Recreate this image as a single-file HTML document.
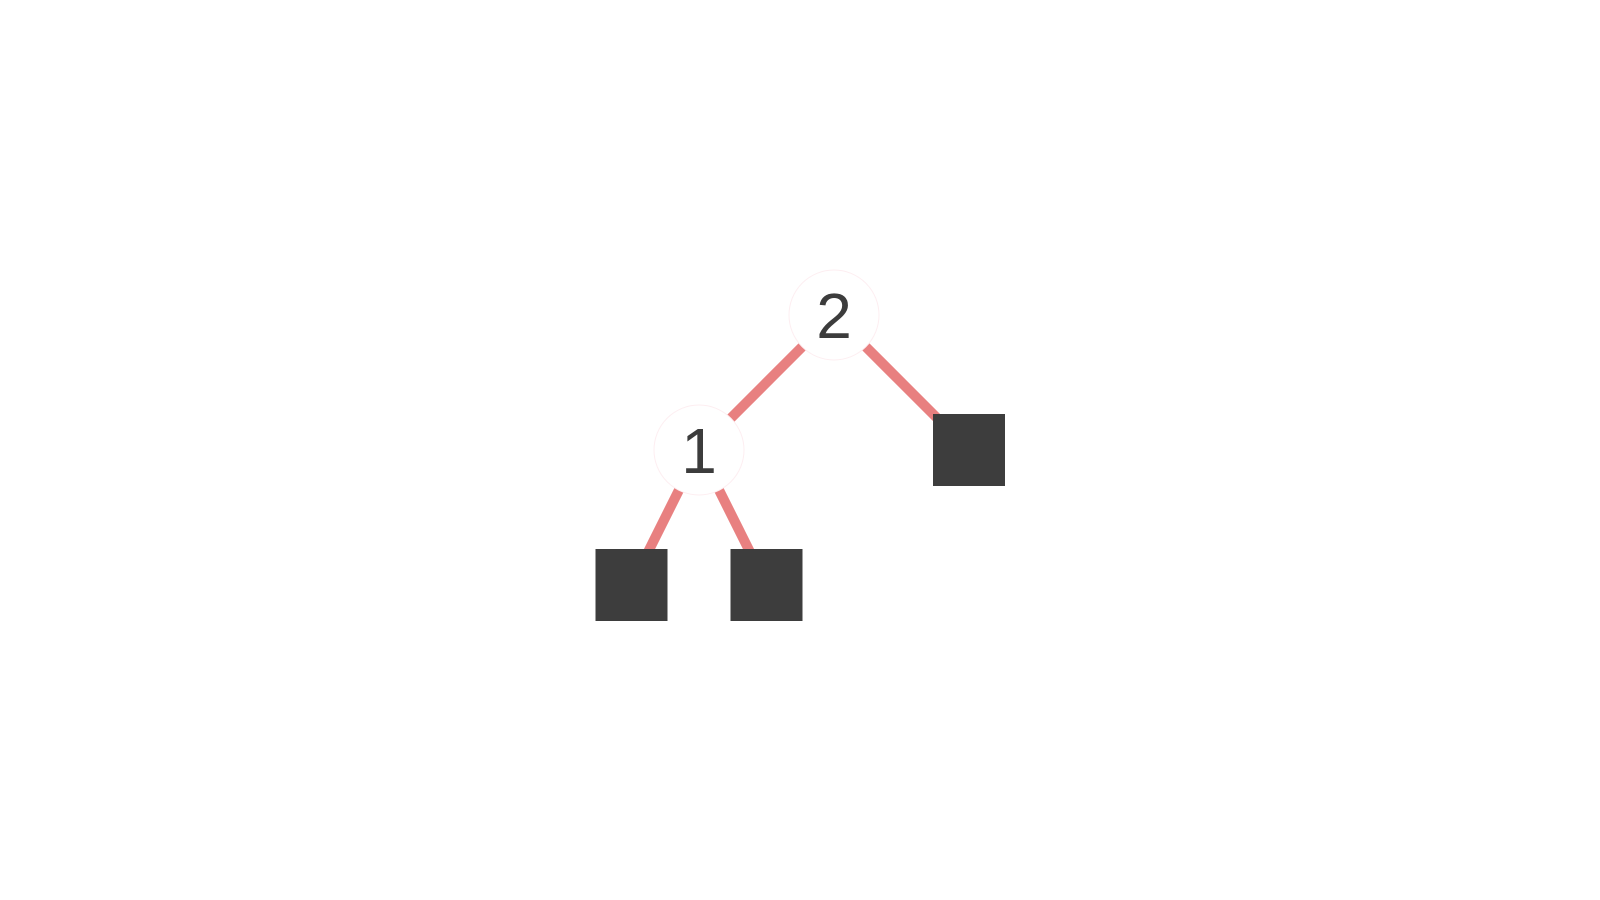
<!DOCTYPE html>
<html><head><meta charset="utf-8"><style>
html,body{margin:0;padding:0;background:#fff;}
svg{display:block;}
</style></head><body>
<svg width="1600" height="900">
<g id="edges"></g>
<g id="nodes"></g>
</svg>
<script>
const nodeLabels = ["2","1",null,null,null];
const nodeDepth = [0,1,2,2,1];
const nodeSlot = [1,0,-0.5,0.5,2];
const parents = [-1,0,1,1,0];
const ns="http://www.w3.org/2000/svg";
const sx=v=>699+v*135, sy=d=>315+d*135;
const E=document.getElementById('edges'), N=document.getElementById('nodes');
for(let i=0;i<parents.length;i++){
  if(parents[i]<0) continue;
  const p=parents[i];
  const l=document.createElementNS(ns,'line');
  l.setAttribute('x1',sx(nodeSlot[p]));l.setAttribute('y1',sy(nodeDepth[p]));
  l.setAttribute('x2',sx(nodeSlot[i]));l.setAttribute('y2',sy(nodeDepth[i]));
  l.setAttribute('stroke','#e88080');l.setAttribute('stroke-width','10');
  
  
  E.appendChild(l);
}
for(let i=0;i<nodeLabels.length;i++){
  const x=sx(nodeSlot[i]), y=sy(nodeDepth[i]);
  if(nodeLabels[i]!==null){
    const c=document.createElementNS(ns,'circle');
    c.setAttribute('cx',x);c.setAttribute('cy',y);c.setAttribute('r',45);
    c.setAttribute('fill','#fff');c.setAttribute('stroke','#fdeef1');c.setAttribute('stroke-width','1');
    
    
    N.appendChild(c);
    const t=document.createElementNS(ns,'text');
    t.setAttribute('x',x);t.setAttribute('y',y+23);t.setAttribute('text-anchor','middle');
    t.setAttribute('font-family','Liberation Sans, sans-serif');t.setAttribute('font-size','64');
    t.setAttribute('fill','#3c3c3c');t.textContent=nodeLabels[i];
    
    
    N.appendChild(t);
  } else {
    const r=document.createElementNS(ns,'rect');
    r.setAttribute('x',x-36);r.setAttribute('y',y-36);r.setAttribute('width',72);r.setAttribute('height',72);
    r.setAttribute('fill','#3d3d3d');
    
    
    N.appendChild(r);
  }
}
</script>
</body></html>
